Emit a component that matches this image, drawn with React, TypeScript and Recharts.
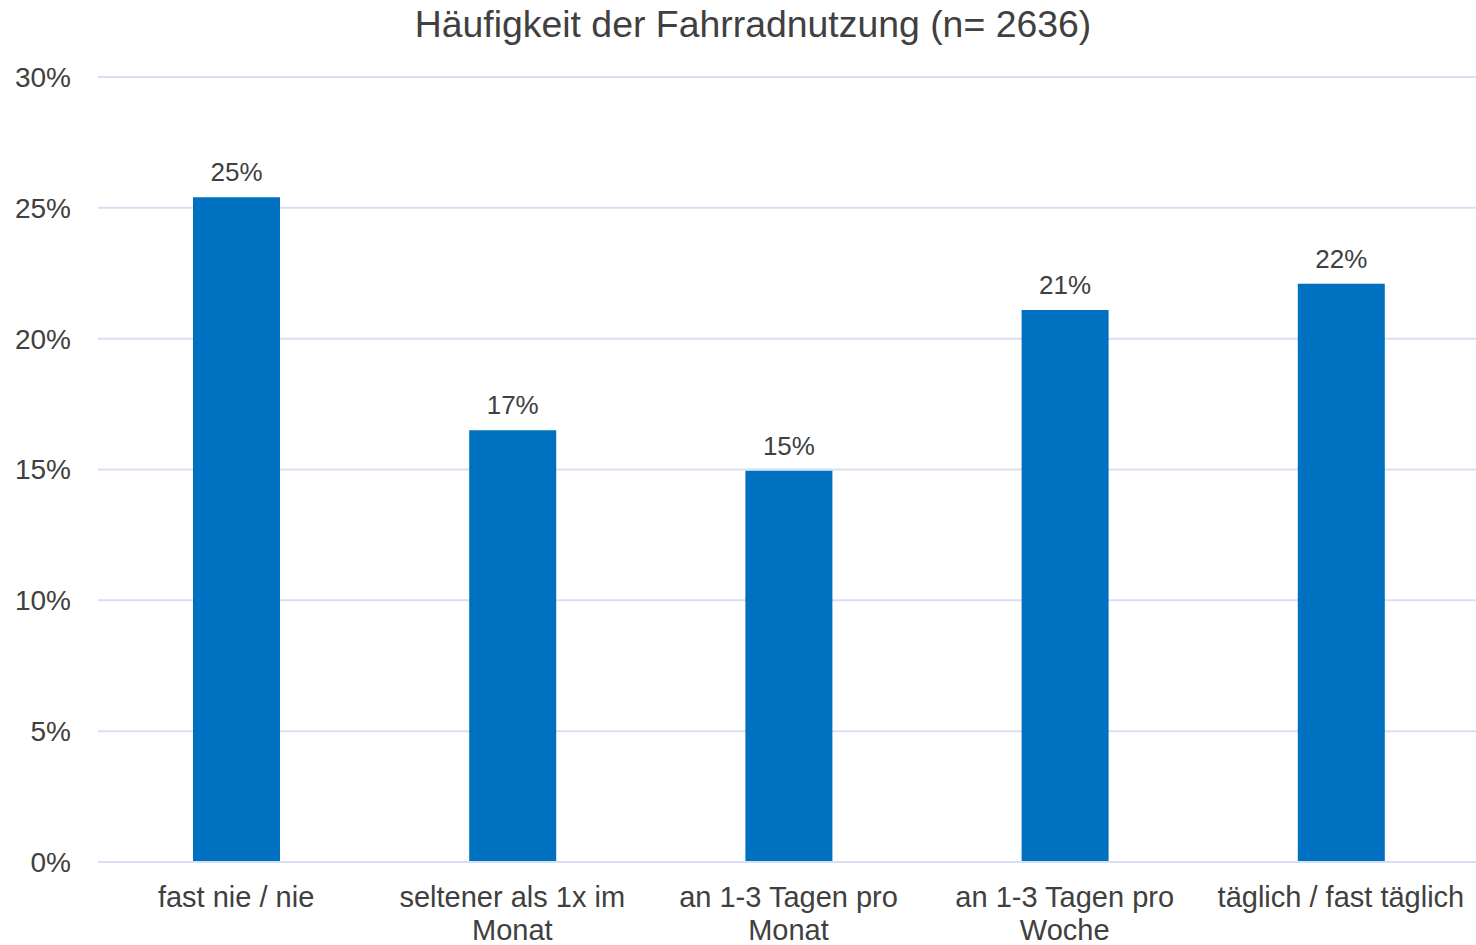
import React from 'react';
import { BarChart, Bar, XAxis, YAxis, CartesianGrid, LabelList } from 'recharts';

const categories = [
  'fast nie / nie',
  'seltener als 1x im Monat',
  'an 1-3 Tagen pro Monat',
  'an 1-3 Tagen pro Woche',
  'täglich / fast täglich',
];
const shares = [25.4, 16.5, 14.95, 21.1, 22.1];
const yTicks = [0, 5, 10, 15, 20, 25, 30];
const title = 'Häufigkeit der Fahrradnutzung (n= 2636)';

const data = categories.map((c, i) => ({ name: c, value: shares[i] }));

const FONT = '"Liberation Sans", Arial, sans-serif';
const TEXT = '#404040';
const GRID = '#d6dff3';
const X_FONT_SIZE = 29;

let canvasCtx: CanvasRenderingContext2D | null = null;
const measure = (s: string) => {
  if (!canvasCtx) {
    const c = document.createElement('canvas');
    canvasCtx = c.getContext('2d');
  }
  if (!canvasCtx) return s.length * X_FONT_SIZE * 0.5;
  canvasCtx.font = `${X_FONT_SIZE}px ${FONT}`;
  return canvasCtx.measureText(s).width;
};

const wrap = (s: string, maxW: number) => {
  const words = s.split(' ');
  const lines: string[] = [];
  let cur = '';
  words.forEach((w) => {
    const t = cur ? cur + ' ' + w : w;
    if (cur && measure(t) > maxW) {
      lines.push(cur);
      cur = w;
    } else {
      cur = t;
    }
  });
  if (cur) lines.push(cur);
  return lines;
};

const XTick = (props: any) => {
  const { x, y, payload } = props;
  const lines = wrap(String(payload.value), 262);
  return (
    <text x={x} y={y} textAnchor="middle" fontSize={X_FONT_SIZE} fontFamily={FONT} fill={TEXT}>
      {lines.map((l, i) => (
        <tspan key={i} x={x} dy={i === 0 ? '0.71em' : 33}>
          {l}
        </tspan>
      ))}
    </text>
  );
};

export default function App() {
  return (
    <div style={{ position: 'absolute', left: 0, top: 0, width: 1476, height: 945, background: '#fff', overflow: 'hidden' }}>
      <svg width={1476} height={60} style={{ position: 'absolute', left: 0, top: 0 }}>
        <text x={753} y={37} textAnchor="middle" fontSize={37.4} fontFamily={FONT} fill={TEXT}>
          {title}
        </text>
      </svg>
      <div style={{ position: 'absolute', left: 0, top: 0 }}>
        <BarChart
          width={1479}
          height={945}
          data={data}
          margin={{ top: 77, right: 0, left: 0, bottom: 0 }}
          barCategoryGap={0}
        >
          <CartesianGrid vertical={false} stroke={GRID} strokeWidth={2} />
          <XAxis
            dataKey="name"
            height={83}
            tickLine={false}
            tickSize={0}
            tickMargin={24}
            axisLine={{ stroke: GRID, strokeWidth: 2 }}
            interval={0}
            tick={<XTick />}
          />
          <YAxis
            width={98}
            domain={[0, 30]}
            ticks={yTicks}
            tickFormatter={(v: number) => `${v}%`}
            tickLine={false}
            tickSize={0}
            tickMargin={27}
            axisLine={false}
            tick={{ fontSize: 28, fontFamily: FONT, fill: TEXT }}
          />
          <Bar dataKey="value" fill="#0070c0" barSize={87} isAnimationActive={false}>
            <LabelList
              dataKey="value"
              position="top"
              offset={16}
              formatter={(v: any) => `${Math.round(Number(v))}%`}
              style={{ fontSize: 26, fontFamily: FONT, fill: TEXT }}
            />
          </Bar>
        </BarChart>
      </div>
    </div>
  );
}
